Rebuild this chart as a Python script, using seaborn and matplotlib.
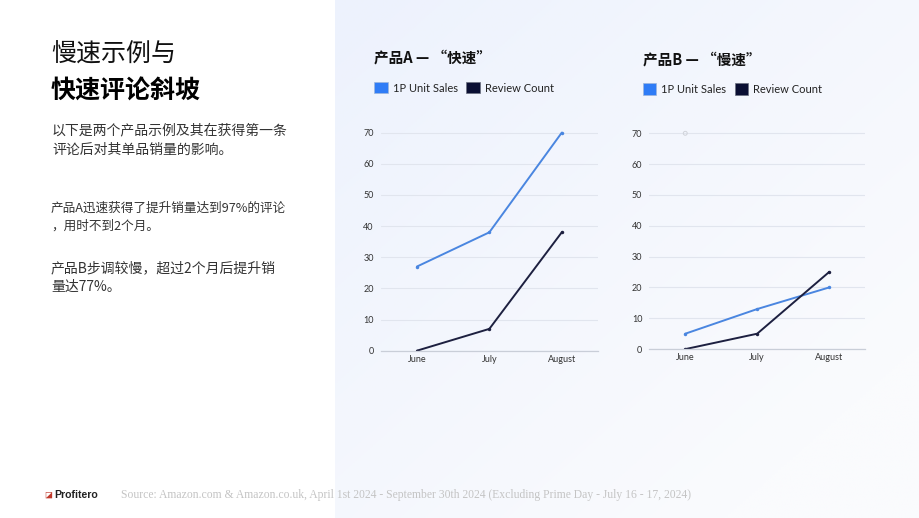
import numpy as np
import pandas as pd
import matplotlib
matplotlib.use("Agg")
import matplotlib.pyplot as plt
from matplotlib.patches import Patch
import seaborn as sns

MONTHS = ["June", "July", "August"]
A_SALES = [27, 38, 70]
A_REVIEWS = [0, 7, 38]
B_SALES = [5, 13, 20]
B_REVIEWS = [0, 5, 25]
B_GHOST = [70, None, None]   # faint empty marker at top-left of chart B
Y_TICKS = [0, 10, 20, 30, 40, 50, 60, 70]

BLUE = "#4a86e0"
NAVY = "#1d2040"
LEG_BLUE = "#2f7cf6"
LEG_NAVY = "#0a0f33"

sns.set_theme(style="white")
plt.rcParams["font.family"] = ["Noto Sans CJK SC", "DejaVu Sans"]

fig = plt.figure(figsize=(9.2, 5.18), dpi=100)
fig.patch.set_facecolor("white")

# right panel gradient background
bg = fig.add_axes([335 / 920, 0, 1 - 335 / 920, 1], zorder=0)
gx, gy = np.meshgrid(np.linspace(0, 1, 200), np.linspace(0, 1, 200))
t = np.clip((gx * 0.6 + gy * 0.6), 0, 1)
c0 = np.array([0xed, 0xf2, 0xfd]) / 255
c1 = np.array([0xfa, 0xfb, 0xfd]) / 255
img = c0[None, None, :] * (1 - t[..., None]) + c1[None, None, :] * t[..., None]
bg.imshow(img, aspect="auto", extent=[0, 1, 0, 1], origin="upper")
bg.set_axis_off()


def draw_chart(rect, title, sales, reviews, ghost=None):
    ax = fig.add_axes(rect, zorder=2)
    ax.patch.set_alpha(0)
    df = pd.DataFrame({"month": MONTHS, "sales": sales, "reviews": reviews})
    df["x"] = range(len(MONTHS))
    sns.lineplot(data=df, x="x", y="sales", ax=ax, color=BLUE, lw=1.4,
                 marker="o", markersize=2.5, markeredgewidth=0)
    sns.lineplot(data=df, x="x", y="reviews", ax=ax, color=NAVY, lw=1.4,
                 marker="o", markersize=2.5, markeredgewidth=0)
    if ghost is not None:
        gd = pd.DataFrame({"x": range(len(MONTHS)), "v": ghost}).dropna()
        ax.scatter(gd["x"], gd["v"], s=8, facecolor="none", edgecolor="#d0d3da", lw=0.7)
    ax.set_xlim(-0.5, 2.5)
    ax.set_ylim(0, 72)
    ax.set_yticks(Y_TICKS)
    ax.set_xticks(range(len(MONTHS)))
    ax.set_xticklabels(MONTHS)
    ax.yaxis.grid(True, color="#e1e5ee", lw=0.8)
    ax.set_axisbelow(True)
    for s in ["top", "right", "left"]:
        ax.spines[s].set_visible(False)
    ax.spines["bottom"].set_color("#c9ced8")
    ax.spines["bottom"].set_linewidth(0.9)
    ax.tick_params(axis="y", length=0, labelsize=6.5, colors="#333333", pad=5)
    ax.tick_params(axis="x", length=0, labelsize=6.5, colors="#333333", pad=3)
    for lab in ax.get_xticklabels() + ax.get_yticklabels():
        lab.set_family(["Lato", "DejaVu Sans"])
    ax.set_xlabel("")
    ax.set_ylabel("")
    # title and legend above plot
    ax.text(-0.03, 1.306, title, transform=ax.transAxes, fontsize=10.5, fontweight="bold",
            color="#111111", va="center", ha="left")
    handles = [Patch(facecolor=LEG_BLUE, edgecolor="#9fb6da", lw=0.5, label="1P Unit Sales"),
               Patch(facecolor=LEG_NAVY, edgecolor="#6b7080", lw=0.5, label="Review Count")]
    leg = ax.legend(handles=handles, loc="center left", bbox_to_anchor=(-0.03, 1.172),
                    ncol=2, frameon=False, handlelength=1.2, handleheight=1.2,
                    handletextpad=0.45, columnspacing=0.8, borderaxespad=0, borderpad=0,
                    prop={"family": ["Lato", "DejaVu Sans"], "size": 8})
    for txt in leg.get_texts():
        txt.set_color("#222222")
    return ax


draw_chart([380.7 / 920, 0.323, 0.2362, 0.433], "产品A — “快速”", A_SALES, A_REVIEWS)
draw_chart([649.3 / 920, 0.326, 0.2345, 0.4286], "产品B — “慢速”", B_SALES, B_REVIEWS, B_GHOST)

# left text block
def ftxt(x, y, s, **kw):
    fig.text(x / 920, 1 - y / 518, s, va="center", ha="left", **kw)

ftxt(51, 55, "慢速示例与", fontsize=18, fontweight="light", color="#111111")
ftxt(51, 92, "快速评论斜坡", fontsize=18, fontweight="bold", color="#000000")
ftxt(52, 130, "以下是两个产品示例及其在获得第一条", fontsize=10, color="#333333")
ftxt(52, 150, "评论后对其单品销量的影响。", fontsize=10, color="#333333")
ftxt(51, 208, "产品A迅速获得了提升销量达到97%的评论", fontsize=9.1, color="#333333")
ftxt(51, 226, "，用时不到2个月。", fontsize=9.1, color="#333333")
ftxt(51, 268, "产品B步调较慢，超过2个月后提升销", fontsize=10, color="#333333")
ftxt(51, 287, "量达77%。", fontsize=10, color="#333333")

# footer
ftxt(44, 494, "◪", fontsize=6, color="#c0392b", family=["DejaVu Sans"])
ftxt(54, 495, "Profitero", fontsize=7.6, fontweight="bold", color="#222222",
     family=["Liberation Sans", "DejaVu Sans"])
ftxt(121, 495, "Source: Amazon.com & Amazon.co.uk, April 1st 2024 - September 30th 2024 "
     "(Excluding Prime Day - July 16 - 17, 2024)", fontsize=8.4, color="#c4c4c4",
     family=["Liberation Serif", "DejaVu Serif"])

fig.savefig("out.png", dpi=100)
